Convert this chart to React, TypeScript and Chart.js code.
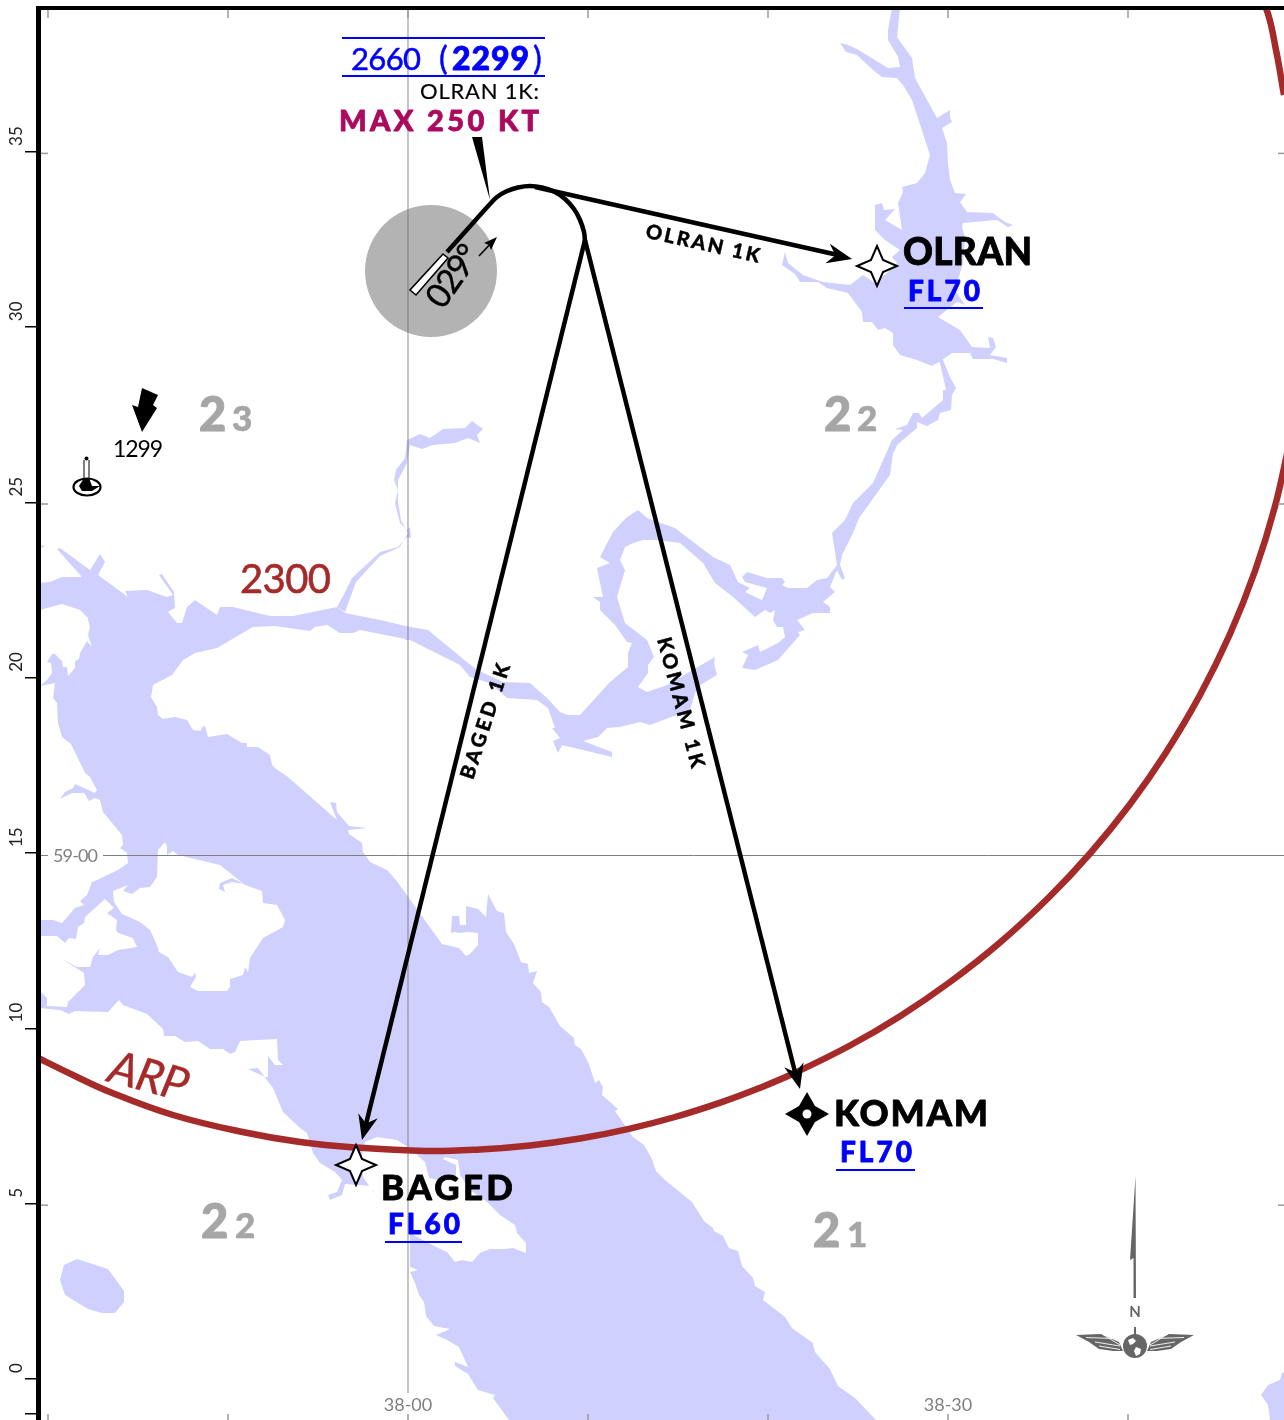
import React, { useEffect, useRef } from "react";
import { Chart, registerables } from "chart.js";

Chart.register(...registerables);

type Pt = [number, number];

// toLon / toLat turn them into arc-minutes east of 38-00 and miles north of the 0 tick.
const toLon = (v: number) => (v - 408) / 18;
const toLat = (v: number) => (1379 - v) / 35.06;

const yTickValues = [0, 5, 10, 15, 20, 25, 30, 35];
const yExtraTick = -1;
const xTickLabels: Record<number, string> = { 0: "38-00", 30: "38-30" };
const innerLatTicks = [5, 25, 35];
const frameLonTicks = [-20, -10, 0, 10, 20, 30, 40];

const bayWater: Pt[] = [
  [40,583],[50,582],[62,577],[82,577],[57,549],[60,548],[90,570],[100,554],[105,562],[98,575],[128,597],[125,591],[147,590],[167,597],[173,595],[159,575],[162,574],[174,592],[175,608],[168,612],[177,623],[182,623],[187,607],[195,600],[217,615],[220,607],[233,607],[270,616],[293,616],[337,607],[345,613],[380,620],[410,627],[410,640],[400,638],[360,630],[353,633],[340,633],[327,625],[315,627],[310,631],[275,626],[253,627],[217,648],[195,653],[183,660],[172,675],[153,685],[151,697],[157,707],[158,715],[163,719],[175,717],[187,720],[193,730],[201,731],[202,727],[205,726],[208,737],[227,734],[242,743],[247,743],[247,747],[258,747],[270,755],[272,765],[275,768],[288,777],[337,820],[333,810],[330,802],[336,803],[337,812],[349,826],[367,828],[348,830],[349,834],[362,843],[363,852],[370,862],[387,870],[396,880],[442,944],[459,948],[466,956],[470,954],[478,945],[478,933],[468,932],[459,933],[455,932],[451,933],[452,916],[459,916],[460,925],[466,925],[466,906],[478,909],[486,917],[488,894],[497,911],[504,913],[506,932],[514,944],[521,962],[528,964],[529,973],[537,971],[533,983],[541,992],[542,1002],[549,1007],[556,1019],[560,1026],[574,1038],[575,1045],[581,1049],[589,1064],[595,1083],[599,1080],[603,1087],[602,1095],[618,1109],[615,1111],[633,1137],[644,1145],[652,1159],[656,1171],[665,1180],[692,1202],[704,1221],[713,1228],[714,1231],[723,1236],[729,1248],[738,1251],[742,1266],[753,1278],[755,1286],[765,1292],[763,1300],[785,1317],[792,1328],[813,1343],[815,1352],[830,1369],[838,1386],[855,1398],[876,1420],[509,1420],[493,1398],[495,1395],[478,1390],[468,1374],[455,1366],[455,1362],[468,1367],[459,1347],[447,1340],[436,1335],[450,1329],[434,1326],[426,1316],[424,1302],[419,1295],[415,1283],[410,1272],[418,1270],[410,1267],[410,1255],[410,1233],[372,1190],[370,1186],[345,1184],[342,1195],[330,1200],[328,1195],[337,1192],[342,1180],[335,1172],[320,1163],[313,1153],[307,1133],[300,1128],[283,1112],[273,1088],[258,1068],[248,1069],[265,1077],[268,1077],[268,1056],[275,1065],[283,1065],[278,1060],[277,1039],[240,1041],[235,1052],[230,1054],[223,1049],[210,1049],[198,1041],[185,1042],[175,1036],[164,1036],[163,1029],[147,1014],[123,1005],[119,1000],[108,1012],[75,1011],[69,1014],[60,1010],[40,1008],[40,920],[53,920],[62,923],[75,908],[84,905],[80,901],[87,895],[92,882],[97,880],[118,870],[128,863],[127,853],[120,848],[123,845],[122,835],[103,812],[100,800],[95,798],[89,801],[84,793],[72,793],[60,799],[65,792],[73,788],[75,784],[95,793],[97,790],[90,777],[85,773],[71,744],[62,737],[58,723],[57,703],[53,698],[55,683],[40,686],[47,680],[52,673],[51,663],[47,662],[52,654],[55,654],[62,661],[63,667],[67,667],[68,676],[75,668],[75,661],[79,659],[80,653],[87,641],[92,647],[88,635],[90,627],[88,620],[88,618],[80,610],[62,604],[40,610],
];

const riverSystem: Pt[] = [
  [405,626],[428,630],[462,658],[477,670],[503,682],[530,683],[547,698],[560,712],[568,715],[580,715],[610,682],[628,667],[628,653],[632,643],[627,642],[615,625],[600,610],[600,602],[593,597],[603,597],[597,568],[610,563],[600,557],[613,532],[627,517],[638,510],[647,518],[675,528],[713,557],[730,565],[738,582],[750,588],[745,592],[762,600],[767,588],[745,582],[742,577],[747,572],[767,578],[782,578],[785,582],[782,585],[788,588],[807,588],[817,580],[827,578],[837,565],[835,552],[832,533],[845,520],[853,503],[873,483],[892,440],[903,430],[895,429],[907,425],[913,413],[919,413],[922,418],[943,400],[943,390],[946,390],[940,363],[938,360],[943,360],[950,377],[956,388],[952,395],[951,410],[940,413],[938,420],[927,426],[917,422],[917,428],[897,445],[895,450],[893,453],[890,475],[859,518],[853,533],[842,555],[840,565],[845,578],[842,580],[837,570],[830,587],[835,592],[823,602],[830,607],[830,613],[813,613],[797,620],[805,630],[798,632],[800,635],[778,660],[755,670],[742,668],[748,655],[742,652],[758,645],[760,652],[778,643],[785,637],[783,627],[777,627],[773,620],[775,610],[770,613],[765,610],[755,617],[733,597],[715,583],[703,563],[680,543],[657,540],[643,540],[633,543],[625,547],[620,560],[625,570],[617,597],[625,623],[647,640],[654,657],[648,665],[648,673],[638,687],[647,692],[667,685],[715,657],[714,663],[717,675],[697,687],[690,710],[650,725],[640,722],[620,727],[607,728],[598,737],[583,741],[612,752],[612,757],[562,745],[558,753],[553,741],[560,738],[552,728],[555,728],[548,708],[537,700],[507,698],[490,683],[470,677],[460,665],[410,640],[405,640],
];

const creekWater: Pt[] = [
  [337,607],[343,596],[352,578],[380,552],[398,547],[407,537],[411,538],[410,527],[407,530],[400,523],[395,503],[398,490],[394,480],[396,470],[405,458],[407,440],[420,434],[430,438],[443,429],[465,428],[472,421],[483,429],[477,435],[480,443],[468,438],[455,443],[433,445],[422,449],[410,445],[407,463],[398,480],[398,502],[401,520],[408,533],[400,547],[380,556],[356,582],[345,612],
];

const olranLake: Pt[] = [
  [892,8],[900,8],[897,37],[912,58],[915,78],[937,118],[950,110],[950,117],[952,122],[942,128],[947,143],[948,163],[950,180],[955,193],[966,194],[960,202],[967,212],[993,213],[1005,222],[1013,225],[1008,227],[997,220],[963,223],[962,227],[965,238],[963,263],[955,290],[965,305],[957,302],[938,317],[960,330],[972,347],[990,348],[988,337],[993,338],[996,347],[990,355],[1007,358],[1007,363],[993,359],[973,359],[970,353],[952,353],[942,360],[932,366],[917,360],[900,355],[893,345],[893,333],[885,328],[878,330],[872,322],[863,322],[862,312],[848,293],[827,288],[818,282],[800,282],[795,274],[782,265],[785,252],[788,263],[803,275],[823,282],[850,285],[863,275],[875,283],[887,273],[897,263],[892,257],[900,250],[885,240],[875,230],[875,205],[882,203],[884,210],[895,209],[885,220],[902,230],[898,203],[903,192],[902,187],[917,183],[925,173],[930,155],[912,100],[903,85],[897,78],[882,77],[873,70],[857,55],[846,52],[840,43],[848,45],[857,49],[888,68],[900,67],[898,57],[888,40],[888,30],
];

const westPond: Pt[] = [[77,1259],[108,1269],[124,1291],[124,1302],[115,1313],[102,1313],[88,1309],[65,1295],[60,1280],[64,1265]];
const cornerWater: Pt[] = [[1282,1373],[1280,1380],[1268,1385],[1261,1395],[1268,1405],[1270,1420],[1284,1420],[1284,1372]];
const northWestBit: Pt[] = [[38,545],[46,546],[38,549]];
const islandInlet: Pt[] = [[244,884],[232,878],[220,883],[219,889],[225,892],[223,885],[232,882]];

const westLand: Pt[] = [
  [40,936],[57,936],[65,943],[69,938],[76,939],[78,927],[84,923],[85,917],[95,908],[105,899],[114,908],[107,913],[117,920],[116,930],[118,933],[133,938],[137,947],[118,950],[108,955],[98,955],[100,948],[93,957],[90,967],[77,967],[62,959],[84,973],[85,985],[75,995],[68,1002],[67,1007],[47,1006],[47,998],[40,991],
];
const centralIsland: Pt[] = [
  [157,877],[150,887],[140,888],[132,894],[123,891],[128,885],[113,891],[114,902],[122,914],[140,922],[150,930],[157,945],[159,952],[168,957],[178,972],[192,977],[195,973],[196,977],[190,987],[198,991],[227,991],[230,987],[230,979],[243,975],[245,967],[248,972],[250,958],[263,938],[283,927],[285,920],[277,905],[263,903],[262,891],[245,885],[220,865],[178,855],[173,851],[167,855],[167,847],[165,842],[158,850],
];
const bagedLand: Pt[] = [
  [365,1142],[377,1137],[397,1140],[408,1147],[425,1162],[429,1178],[443,1181],[456,1177],[456,1165],[443,1159],[445,1157],[458,1160],[460,1175],[470,1190],[487,1202],[500,1215],[515,1225],[517,1233],[526,1243],[526,1253],[513,1248],[505,1249],[490,1249],[480,1253],[472,1262],[462,1260],[455,1262],[447,1252],[432,1245],[410,1233],[372,1190],[363,1177],[361,1160],
];

const arcMain: Pt[] = [
  [30,1054],[75,1076],[110,1092],[173,1115],[240,1131.5],[300,1142],[355,1147.5],[426,1151],[480,1149.4],[530,1145.4],[580,1138.5],[629,1128.8],[675,1117],[721,1102.4],[760,1087.8],[794,1073.3],[850,1045.5],[900,1016.2],[950,982],[1000,942.5],[1050,896.2],[1090,853.5],[1130,804.2],[1165,754],[1200,695],[1230,634],[1255,571],[1275,506.4],[1290,440],
];
const arcTop: Pt[] = [[1255,-5],[1266,8],[1276,50],[1284,95],[1292,140]];

const holdTurn: Pt[] = [[447,252],[473,223],[490,204],[497,197],[506,191.5],[518,187.5],[530,186],[542,187.5],[554,191.5],[565,199],[574,209],[580,220],[584,232],[585,242]];
const olranLeg: Pt[] = [[535,187],[838,255]];
const bagedLeg: Pt[] = [[585,240],[365,1128]];
const komamLeg: Pt[] = [[585,240],[796,1076]];
const legTips: Pt[][] = [[[530,186],[852,259]],[[585,240],[362,1140]],[[585,240],[800,1089]]];

const meridian: Pt[] = [[408,8],[408,1393]];
const parallelWest: Pt[] = [[40,855.5],[48,855.5]];
const parallelEast: Pt[] = [[103,855.5],[1284,855.5]];
const airportDisc: Pt[] = [[431,271]];

const hollowFixes: Pt[] = [[877,266],[356,1165]];
const solidFixes: Pt[] = [[807,1114]];

const WATER = "#D0D0FF";
const BROWN = "#A52A2A";
const BLUE = "#0000FF";
const GREY = "#A6A6A6";
const MAGENTA = "#AB0A5E";
const FONT = "Lato, sans-serif";

type Lab = { t: string; x: number; y: number; s: number; b?: boolean; c: string; w?: number; r?: number; i?: boolean; mid?: boolean; k?: number };
const labels: Lab[] = [
  { t: "2660", x: 351, y: 70, s: 31, c: BLUE, w: 70, k: 0.5 },
  { t: "(", x: 439, y: 70, s: 33, c: BLUE, k: 0.5 },
  { t: "2299", x: 452, y: 70, s: 32, b: true, c: BLUE, w: 77, k: 0.8 },
  { t: ")", x: 533, y: 70, s: 33, c: BLUE, k: 0.5 },
  { t: "OLRAN 1K:", x: 420, y: 99, s: 22, c: "#000", w: 119, k: 0.2 },
  { t: "MAX 250 KT", x: 339, y: 131, s: 29, b: true, c: MAGENTA, w: 200, k: 0.8 },
  { t: "OLRAN", x: 903, y: 265, s: 37, b: true, c: "#000", w: 129, k: 0.8 },
  { t: "FL70", x: 908, y: 301, s: 28, b: true, c: BLUE, w: 72, k: 0.8 },
  { t: "KOMAM", x: 834, y: 1126, s: 36, b: true, c: "#000", w: 154, k: 0.8 },
  { t: "FL70", x: 840, y: 1162, s: 28, b: true, c: BLUE, w: 72, k: 0.8 },
  { t: "BAGED", x: 381, y: 1200, s: 35, b: true, c: "#000", w: 132, k: 0.8 },
  { t: "FL60", x: 388, y: 1234, s: 28, b: true, c: BLUE, w: 72, k: 0.8 },
  { t: "2", x: 199, y: 431, s: 47, b: true, c: GREY, k: 1 },
  { t: "3", x: 232, y: 431, s: 35, b: true, c: GREY, k: 0.6 },
  { t: "2", x: 824, y: 431, s: 47, b: true, c: GREY, k: 1 },
  { t: "2", x: 857, y: 431, s: 35, b: true, c: GREY, k: 0.6 },
  { t: "2", x: 201, y: 1238, s: 47, b: true, c: GREY, k: 1 },
  { t: "2", x: 235, y: 1238, s: 35, b: true, c: GREY, k: 0.6 },
  { t: "2", x: 813, y: 1247, s: 47, b: true, c: GREY, k: 1 },
  { t: "1", x: 847, y: 1247, s: 35, b: true, c: GREY, k: 0.6 },
  { t: "2300", x: 240, y: 593, s: 40, c: BROWN, w: 91, k: 0.6 },
  { t: "1299", x: 113, y: 457, s: 23, c: "#000", w: 50 },
  { t: "59-00", x: 53, y: 862, s: 18, c: "#808080", w: 45 },
  { t: "ARP", x: 148, y: 1077, s: 46, c: BROWN, w: 80, r: 15, i: true, mid: true, k: 0.4 },
  { t: "029°", x: 453, y: 277, s: 34, c: "#000", w: 68, r: -55, mid: true, k: 0.4 },
  { t: "OLRAN 1K", x: 704, y: 244, s: 20, b: true, c: "#000", w: 116, r: 12.6, mid: true, k: 0.4 },
  { t: "BAGED 1K", x: 486, y: 720, s: 20, b: true, c: "#000", w: 120, r: -72, mid: true, k: 0.4 },
  { t: "KOMAM 1K", x: 681, y: 704, s: 20, b: true, c: "#000", w: 134, r: 75, mid: true, k: 0.4 },
];
const rules: { x: [number, number]; y: number }[] = [
  { x: [342, 545], y: 38 },
  { x: [342, 545], y: 76 },
  { x: [904, 983], y: 308 },
  { x: [836, 915], y: 1170 },
  { x: [385, 462], y: 1242 },
];

const pts = (a: Pt[]) => a.map(([x, y]) => ({ x: toLon(x), y: toLat(y) }));
const area = (label: string, a: Pt[], color: string, order: number) => ({
  label, data: pts(a), showLine: true, fill: "shape", backgroundColor: color, borderWidth: 0, pointRadius: 0, order,
});
const path = (label: string, a: Pt[], color: string, width: number, order: number, tension = 0) => ({
  label, data: pts(a), showLine: true, fill: false, borderColor: color, borderWidth: width, pointRadius: 0, order, tension,
  borderCapStyle: "butt",
});

const sheetPlugin = {
  id: "sheet",
  afterDatasetsDraw(chart: any) {
    const { ctx } = chart;
    const X = (v: number) => chart.scales.x.getPixelForValue(toLon(v));
    const Y = (v: number) => chart.scales.y.getPixelForValue(toLat(v));
    const poly = (a: Pt[], fill: string | null, stroke?: string, lw = 1) => {
      ctx.beginPath();
      a.forEach(([x, y], i) => (i ? ctx.lineTo(X(x), Y(y)) : ctx.moveTo(X(x), Y(y))));
      ctx.closePath();
      if (fill) { ctx.fillStyle = fill; ctx.fill(); }
      if (stroke) { ctx.strokeStyle = stroke; ctx.lineWidth = lw; ctx.lineJoin = "miter"; ctx.stroke(); }
    };
    const seg = (a: Pt, b: Pt, c: string, lw: number) => {
      ctx.beginPath(); ctx.moveTo(X(a[0]), Y(a[1])); ctx.lineTo(X(b[0]), Y(b[1]));
      ctx.strokeStyle = c; ctx.lineWidth = lw; ctx.stroke();
    };
    ctx.save();
    ctx.lineCap = "butt";

    // frame ticks
    frameLonTicks.forEach((v) => {
      const p = chart.scales.x.getPixelForValue(v);
      ctx.fillStyle = "#9a9a9a";
      ctx.fillRect(p - 0.75, 9, 1.5, 9);
      ctx.fillRect(p - 0.75, 1414, 1.5, 6);
    });
    innerLatTicks.forEach((v) => {
      const p = chart.scales.y.getPixelForValue(v) + 1.5;
      ctx.fillStyle = "#9a9a9a";
      ctx.fillRect(40, p - 0.75, 8, 1.5);
      ctx.fillRect(1278, p - 0.75, 6, 1.5);
    });

    // runway
    poly([[443,254],[448,258],[416,295],[410,290]], "#fff", "#000", 1.6);
    // small heading arrow
    seg([479,256],[494,240],"#000",1.6);
    poly([[497,237],[484,243],[489,245],[491,250]], "#000");
    // leader
    poly([[472,137],[482,137],[490,200]], "#000");

    // arrowheads
    legTips.forEach(([from, tip]) => {
      const dx = tip[0] - from[0], dy = tip[1] - from[1];
      const l = Math.hypot(dx, dy), ux = dx / l, uy = dy / l;
      const at = (back: number, side: number): Pt => [tip[0] - ux * back - uy * side, tip[1] - uy * back + ux * side];
      poly([tip, at(25, 10), at(17, 0), at(25, -10)], "#000");
    });

    // fixes
    const star = (cx: number, cy: number, r: number, k: number): Pt[] => [
      [cx, cy - r],[cx + k, cy - k],[cx + r, cy],[cx + k, cy + k],[cx, cy + r],[cx - k, cy + k],[cx - r, cy],[cx - k, cy - k],
    ];
    hollowFixes.forEach(([x, y]) => poly(star(x, y, 20, 6), "#fff", "#000", 2));
    solidFixes.forEach(([x, y]) => {
      poly(star(x, y, 22, 8), "#000");
      ctx.beginPath(); ctx.arc(X(x), Y(y), 4.5, 0, Math.PI * 2); ctx.fillStyle = "#fff"; ctx.fill();
    });

    // spot-height arrow
    poly([[142,388],[158,395],[153,405],[157,408],[142,432],[132,405],[138,407]], "#000");

    // tower symbol
    ctx.strokeStyle = "#000"; ctx.lineWidth = 2.2;
    ctx.beginPath(); ctx.ellipse(X(87), Y(487), 13.5, 8.5, 0, 0, Math.PI * 2); ctx.stroke();
    seg([84,460],[84,478],"#000",1);
    seg([89,460],[89,478],"#000",1);
    poly([[84,478],[89,478],[92,486],[100,486],[92,491],[82,491],[79,486]], "#000");
    ctx.beginPath(); ctx.arc(X(86.5), Y(458.5), 2, 0, Math.PI * 2); ctx.fillStyle = "#000"; ctx.fill();

    // north arrow
    const G = "#666666";
    poly([[1135.5,1176],[1136,1298],[1133.5,1298],[1133.5,1258],[1130,1260]], G);
    seg([1135,1327],[1135,1336],G,2);
    [1, -1].forEach((m) => {
      const mx = (v: number) => 1135 + m * v;
      poly([[mx(59),1335],[mx(34),1334],[mx(16),1342],[mx(12),1351],[mx(22),1351],[mx(36),1349],[mx(46),1342]], G);
      seg([mx(49),1337.5],[mx(20),1338.5],"#fff",0.9);
      seg([mx(40),1342],[mx(15),1346],"#fff",0.9);
      seg([mx(36),1346],[mx(15),1349.5],"#fff",0.9);
      seg([mx(33),1334],[mx(15),1345],"#fff",0.9);
    });
    ctx.beginPath(); ctx.arc(X(1135), Y(1346), 12, 0, Math.PI * 2); ctx.fillStyle = G; ctx.fill();
    poly([[1128,1340],[1133,1338],[1136,1341],[1133,1344],[1130,1345]], "#fff");
    poly([[1136,1347],[1141,1349],[1140,1354],[1136,1356],[1134,1351]], "#fff");
    ctx.fillStyle = G; ctx.font = `bold 15px ${FONT}`; ctx.textAlign = "center"; ctx.textBaseline = "middle";
    ctx.fillText("N", X(1135), Y(1312));

    // blue rules
    rules.forEach((r) => seg([r.x[0], r.y], [r.x[1], r.y], BLUE, 2));

    // text
    labels.forEach((l) => {
      ctx.save();
      ctx.font = `${l.i ? "italic " : ""}${l.b ? "900 " : ""}${l.s}px ${FONT}`;
      ctx.fillStyle = l.c;
      (ctx as any).letterSpacing = "0px";
      const natural = ctx.measureText(l.t).width;
      if (l.w && l.t.length > 1) (ctx as any).letterSpacing = `${(l.w - natural) / (l.t.length - 1)}px`;
      ctx.translate(X(l.x), Y(l.y));
      if (l.r) ctx.rotate((l.r * Math.PI) / 180);
      ctx.textAlign = l.mid ? "center" : "left";
      ctx.textBaseline = l.mid ? "middle" : "alphabetic";
      ctx.fillText(l.t, 0, 0);
      if (l.k) { ctx.strokeStyle = l.c; ctx.lineWidth = l.k; ctx.lineJoin = "round"; ctx.strokeText(l.t, 0, 0); }
      ctx.restore();
    });
    ctx.restore();
  },
};

const zeroHeight = (s: any) => { s.height = 0; s.paddingLeft = 0; s.paddingRight = 0; };

export default function App() {
  const ref = useRef<HTMLCanvasElement>(null);
  useEffect(() => {
    const chart = new Chart(ref.current as HTMLCanvasElement, {
      type: "scatter",
      data: {
        datasets: [
          area("Bay", bayWater, WATER, 9),
          area("River", riverSystem, WATER, 9),
          area("Creek", creekWater, WATER, 9),
          area("Olran lake", olranLake, WATER, 9),
          area("West pond", westPond, WATER, 9),
          area("Corner water", cornerWater, WATER, 9),
          area("North-west bit", northWestBit, WATER, 9),
          area("West land", westLand, "#FFFFFF", 8),
          area("Central island", centralIsland, "#FFFFFF", 8),
          area("Baged land", bagedLand, "#FFFFFF", 8),
          area("Island inlet", islandInlet, WATER, 7),
          {
            label: "Airport disc", data: pts(airportDisc), showLine: false, pointRadius: 66,
            pointBackgroundColor: "#B3B3B3", pointBorderWidth: 0, order: 6,
          },
          path("38-00", meridian, "rgba(110,110,110,0.5)", 1.6, 5),
          path("59-00 west", parallelWest, "#7f7f7f", 1, 5),
          path("59-00 east", parallelEast, "#7f7f7f", 1, 5),
          path("ARP arc", arcMain, BROWN, 6.5, 4, 0.4),
          path("ARP arc north", arcTop, BROWN, 6.5, 4, 0.4),
          path("Hold turn", holdTurn, "#000", 4.5, 1, 0.4),
          path("OLRAN 1K", olranLeg, "#000", 4.5, 1),
          path("BAGED 1K", bagedLeg, "#000", 4.5, 1),
          path("KOMAM 1K", komamLeg, "#000", 4.5, 1),
        ] as any,
      },
      options: {
        animation: false,
        responsive: false,
        devicePixelRatio: 1,
        events: [],
        layout: { autoPadding: false, padding: { left: 17, top: 8, right: 0, bottom: 0 } },
        plugins: { legend: { display: false }, title: { display: false }, tooltip: { enabled: false } },
        scales: {
          x: {
            type: "linear", position: "bottom", min: toLon(38), max: toLon(1284),
            afterFit: zeroHeight,
            border: { display: false },
            grid: { display: false },
            ticks: {
              stepSize: 10, includeBounds: false, autoSkip: false, maxRotation: 0, minRotation: 0, padding: 4, mirror: true,
              color: "#808080", font: { family: FONT, size: 18 },
              callback: (v: any) => xTickLabels[v] ?? "",
            },
          },
          xTop: {
            type: "linear", position: "top", min: toLon(38), max: toLon(1284),
            afterFit: zeroHeight,
            border: { display: true, color: "#000", width: 4, z: 2 },
            grid: { display: false },
            ticks: { display: false },
          },
          y: {
            type: "linear", position: "left", min: toLat(1420), max: toLat(8),
            afterFit: (s: any) => { s.width = 21; s.paddingTop = 0; s.paddingBottom = 0; },
            afterBuildTicks: (s: any) => { s.ticks = [{ value: yExtraTick }, ...yTickValues.map((value) => ({ value }))]; },
            border: { display: true, color: "#000", width: 5, z: 2 },
            grid: { drawOnChartArea: false, drawTicks: true, tickLength: 13, color: "#000", lineWidth: 1.5, z: 2 },
            ticks: {
              stepSize: 5, includeBounds: false, autoSkip: false, minRotation: 90, maxRotation: 90,
              mirror: true, crossAlign: "near", labelOffset: -6, padding: -21,
              color: "#222", font: { family: FONT, size: 17 },
              callback: (v: any) => (v === yExtraTick ? "" : String(v)),
            },
          },
        },
      } as any,
      plugins: [sheetPlugin],
    });
    return () => chart.destroy();
  }, []);
  return <canvas ref={ref} width={1284} height={1420} style={{ position: "absolute", left: 0, top: 0, display: "block" }} />;
}
